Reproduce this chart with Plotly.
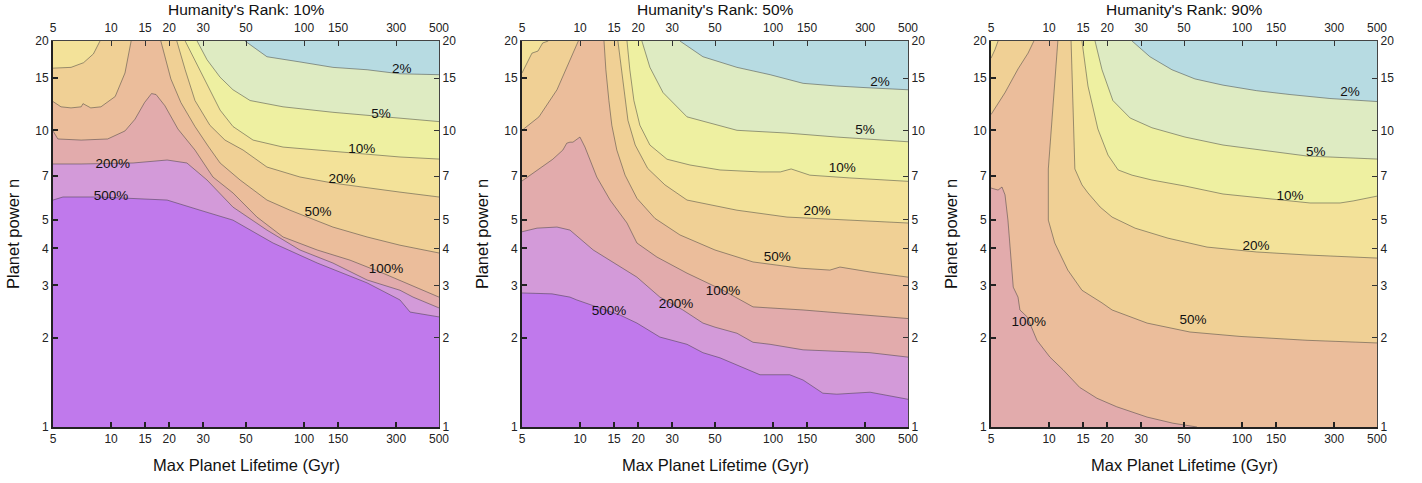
import math
import plotly.graph_objects as go

# ---------------- data ----------------
X_RANGE = (5, 500)
Y_RANGE = (1, 20)
X_TICKS = [5, 10, 15, 20, 30, 50, 100, 150, 300, 500]
Y_TICKS = [1, 2, 3, 4, 5, 7, 10, 15, 20]
LEVELS = ["2%", "5%", "10%", "20%", "50%", "100%", "200%", "500%"]
PANEL_TITLES = ["Humanity's Rank: 10%", "Humanity's Rank: 50%", "Humanity's Rank: 90%"]
X_TITLE = "Max Planet Lifetime (Gyr)"
Y_TITLE = "Planet power n"

# Panel 1 (rank 10%) contour lines
P1_L2_X = [49.4, 64.2, 95.2, 141, 212, 314, 500]
P1_L2_Y = [20, 17.7, 17.0, 16.3, 16.0, 15.5, 15.4]
P1_L5_X = [27.9, 31.4, 36.7, 42.8, 52.5, 77.8, 141, 256, 500]
P1_L5_Y = [20, 17.3, 15.1, 13.7, 12.6, 12.0, 11.5, 11.1, 10.7]
P1_L10_X = [24.2, 26.6, 31.4, 36.7, 42.8, 54.4, 77.8, 117, 173, 314, 500]
P1_L10_Y = [20, 17.7, 14.4, 11.7, 10.3, 9.27, 8.78, 8.58, 8.38, 8.13, 8.0]
P1_L20A_X = [5, 6.2, 7.2, 8.1, 8.76]
P1_L20A_Y = [16.2, 16.3, 16.9, 18.1, 20]
P1_L20B_X = [21.9, 24.2, 27.2, 32.5, 38.9, 48.3, 64.2, 95.2, 141, 212, 314, 500]
P1_L20B_Y = [20, 16.0, 12.6, 10.4, 9.27, 8.58, 7.52, 6.96, 6.64, 6.39, 6.19, 5.96]
P1_L50A_X = [5, 5.5, 6.2, 7.0, 7.15, 7.85, 8.86, 10.5, 11.8, 12.7]
P1_L50A_Y = [12.5, 12.0, 11.9, 12.0, 12.3, 11.9, 12.0, 13.0, 15.6, 20]
P1_L50B_X = [18.1, 19.0, 20.4, 23.0, 27.2, 31.8, 36.7, 46.6, 64.2, 84.5, 141, 212, 314, 500]
P1_L50B_Y = [20, 17.8, 14.9, 12.4, 10.3, 8.85, 7.76, 6.80, 5.82, 5.38, 4.72, 4.37, 4.10, 3.86]
P1_L100_X = [5, 5.3, 7.0, 9.6, 11.8, 13.3, 14.9, 16.2, 17.1, 19.0, 22.2, 27.2, 33.7, 42.8, 57.0, 77.8, 117, 173, 256, 354, 500]
P1_L100_Y = [9.95, 9.35, 9.27, 9.35, 9.95, 10.9, 12.4, 13.3, 13.2, 12.1, 10.1, 8.58, 6.96, 6.15, 5.10, 4.37, 3.95, 3.65, 3.30, 3.01, 2.74]
P1_L200_X = [5, 7.0, 13.0, 19.5, 24.7, 31.4, 42.8, 64.2, 95.2, 141, 212, 314, 367, 500]
P1_L200_Y = [7.70, 7.70, 7.76, 7.94, 7.76, 6.80, 5.51, 4.61, 3.95, 3.57, 3.13, 2.89, 2.74, 2.52]
P1_L500_X = [5, 5.63, 8.76, 19.5, 28.9, 42.8, 69.0, 117, 212, 314, 354, 433, 500]
P1_L500_Y = [5.82, 5.96, 5.96, 5.82, 5.38, 4.98, 4.17, 3.57, 3.06, 2.68, 2.44, 2.38, 2.35]
P1_LAB_T = ["2%", "5%", "10%", "20%", "50%", "100%", "200%", "500%"]
P1_LAB_X = [321, 250, 199, 157, 118, 266, 10.2, 9.99]
P1_LAB_Y = [16.0, 11.3, 8.58, 6.80, 5.26, 3.38, 7.64, 6.0]

# Panel 2 (rank 50%)
P2_L2_X = [32.9, 43.3, 65.0, 96.4, 143, 214, 318, 500]
P2_L2_Y = [20, 17.7, 16.3, 15.4, 14.4, 14.1, 13.9, 13.7]
P2_L5_X = [20.9, 23.0, 26.9, 35.8, 65.0, 118, 214, 500]
P2_L5_Y = [20, 16.3, 13.4, 11.1, 10.0, 9.79, 9.49, 9.15]
P2_L10_X = [17.5, 18.1, 19.0, 20.4, 23.0, 28.2, 37.1, 53.1, 85.5, 109, 124, 155, 250, 500]
P2_L10_Y = [20, 16.0, 12.6, 10.4, 8.92, 7.99, 7.64, 7.35, 7.24, 7.24, 7.41, 7.06, 6.91, 6.73]
P2_L20A_X = [5, 5.3, 5.63, 6.05, 6.4, 6.84]
P2_L20A_Y = [15.6, 16.9, 18.2, 18.5, 19.7, 20]
P2_L20B_X = [15.7, 16.7, 17.7, 19.3, 22.4, 27.5, 35.8, 65.0, 118, 250, 500]
P2_L20B_Y = [20, 14.4, 10.8, 8.92, 7.44, 6.55, 5.82, 5.38, 5.10, 4.98, 4.87]
P2_L50A_X = [5, 6.12, 7.59, 8.86, 9.79]
P2_L50A_Y = [10.0, 11.1, 13.7, 17.3, 20]
P2_L50B_X = [13.3, 13.6, 14.1, 14.6, 15.5, 17.1, 19.7, 24.4, 32.9, 50.0, 78.7, 138, 197, 222, 318, 500]
P2_L50B_Y = [20, 16.0, 12.6, 10.4, 8.58, 7.06, 5.90, 5.05, 4.44, 3.95, 3.60, 3.43, 3.38, 3.46, 3.33, 3.20]
P2_L100_X = [5, 5.98, 7.22, 8.14, 8.53, 8.86, 9.18, 9.98, 10.6, 12.2, 14.3, 17.5, 19.7, 25.0, 35.8, 55.0, 78.7, 143, 318, 500]
P2_L100_Y = [6.75, 7.35, 7.99, 8.58, 9.05, 9.12, 9.12, 9.49, 8.78, 6.96, 5.82, 4.87, 4.17, 3.74, 3.30, 2.89, 2.54, 2.48, 2.38, 2.32]
P2_L200_X = [5, 5.98, 7.59, 8.86, 11.7, 14.3, 19.7, 25.9, 34.1, 43.3, 50.0, 65.0, 78.7, 96.4, 143, 318, 500]
P2_L200_Y = [4.55, 4.68, 4.72, 4.61, 3.95, 3.65, 3.20, 2.74, 2.48, 2.24, 2.17, 2.07, 1.93, 1.90, 1.82, 1.78, 1.72]
P2_L500_X = [5, 7.15, 8.86, 9.62, 12.2, 16.2, 19.7, 25.9, 35.8, 43.3, 53.1, 73.3, 85.5, 122, 143, 181, 214, 318, 500]
P2_L500_Y = [2.83, 2.81, 2.74, 2.68, 2.54, 2.38, 2.24, 2.01, 1.90, 1.78, 1.71, 1.56, 1.50, 1.50, 1.44, 1.30, 1.29, 1.31, 1.24]
P2_LAB_T = ["2%", "5%", "10%", "20%", "50%", "100%", "200%", "500%"]
P2_LAB_X = [358, 299, 228, 169, 105, 55.0, 31.4, 14.1]
P2_LAB_Y = [14.5, 10.0, 7.41, 5.30, 3.71, 2.85, 2.58, 2.44]

# Panel 3 (rank 90%)
P3_L2_X = [26.9, 33.3, 43.3, 57.0, 79.6, 119, 177, 285, 500]
P3_L2_Y = [20, 17.7, 16.0, 14.9, 14.2, 13.6, 13.2, 12.8, 12.5]
P3_L5_X = [17.3, 18.8, 21.4, 26.3, 34.1, 50.6, 79.6, 145, 217, 500]
P3_L5_Y = [20, 16.0, 12.6, 11.0, 10.2, 9.49, 8.92, 8.45, 8.19, 8.0]
P3_L10_X = [14.8, 15.9, 17.9, 20.2, 22.8, 26.9, 34.1, 50.6, 79.6, 145, 225, 322, 376, 500]
P3_L10_Y = [20, 14.1, 10.1, 8.25, 7.35, 7.06, 6.80, 6.49, 6.10, 5.87, 5.69, 5.69, 5.78, 6.0]
P3_L20A_X = [5, 5.24, 5.44]
P3_L20A_Y = [17.5, 18.7, 20]
P3_L20B_X = [13.0, 13.3, 13.6, 14.8, 15.9, 18.4, 21.2, 27.9, 41.3, 65.8, 119, 217, 500]
P3_L20B_Y = [20, 12.6, 7.41, 6.55, 6.15, 5.51, 5.10, 4.68, 4.33, 4.04, 3.89, 3.80, 3.71]
P3_L50A_X = [5, 5.91, 6.90, 7.78, 8.34]
P3_L50A_Y = [11.3, 13.4, 16.1, 18.2, 20]
P3_L50B_X = [11.1, 10.5, 9.91, 9.91, 10.7, 12.5, 14.8, 18.8, 21.2, 32.2, 53.7, 97.5, 217, 500]
P3_L50B_Y = [20, 12.6, 7.41, 4.98, 4.17, 3.38, 2.89, 2.62, 2.48, 2.24, 2.09, 2.02, 1.96, 1.92]
P3_L100_X = [5, 5.44, 5.70, 5.91, 6.12, 6.52, 6.90, 7.06, 7.70, 8.65, 10.1, 11.8, 14.4, 17.7, 22.4, 32.2, 43.8, 58.4]
P3_L100_Y = [6.39, 6.29, 6.44, 6.06, 4.98, 2.96, 2.74, 2.48, 2.35, 1.96, 1.72, 1.56, 1.36, 1.25, 1.17, 1.08, 1.03, 1.0]
P3_LAB_T = ["2%", "5%", "10%", "20%", "50%", "100%"]
P3_LAB_X = [362, 241, 177, 118, 55.7, 7.85]
P3_LAB_Y = [13.4, 8.38, 6.0, 4.07, 2.28, 2.24]

# ---------------- styles ----------------
REGION_COLORS = ["#b7dbe2", "#deebc2", "#eef0a1", "#f3e299", "#f0d095",
                 "#ebbd9b", "#e2abac", "#d39ad9", "#c079ec"]
LINE_COLOR = "rgba(60,60,60,0.55)"
FONT = "Liberation Sans, Arial, sans-serif"

PANELS = [
    {"levels": {"2%": [(P1_L2_X, P1_L2_Y)], "5%": [(P1_L5_X, P1_L5_Y)],
                "10%": [(P1_L10_X, P1_L10_Y)],
                "20%": [(P1_L20A_X, P1_L20A_Y), (P1_L20B_X, P1_L20B_Y)],
                "50%": [(P1_L50A_X, P1_L50A_Y), (P1_L50B_X, P1_L50B_Y)],
                "100%": [(P1_L100_X, P1_L100_Y)], "200%": [(P1_L200_X, P1_L200_Y)],
                "500%": [(P1_L500_X, P1_L500_Y)]},
     "labels": (P1_LAB_T, P1_LAB_X, P1_LAB_Y)},
    {"levels": {"2%": [(P2_L2_X, P2_L2_Y)], "5%": [(P2_L5_X, P2_L5_Y)],
                "10%": [(P2_L10_X, P2_L10_Y)],
                "20%": [(P2_L20A_X, P2_L20A_Y), (P2_L20B_X, P2_L20B_Y)],
                "50%": [(P2_L50A_X, P2_L50A_Y), (P2_L50B_X, P2_L50B_Y)],
                "100%": [(P2_L100_X, P2_L100_Y)], "200%": [(P2_L200_X, P2_L200_Y)],
                "500%": [(P2_L500_X, P2_L500_Y)]},
     "labels": (P2_LAB_T, P2_LAB_X, P2_LAB_Y)},
    {"levels": {"2%": [(P3_L2_X, P3_L2_Y)], "5%": [(P3_L5_X, P3_L5_Y)],
                "10%": [(P3_L10_X, P3_L10_Y)],
                "20%": [(P3_L20A_X, P3_L20A_Y), (P3_L20B_X, P3_L20B_Y)],
                "50%": [(P3_L50A_X, P3_L50A_Y), (P3_L50B_X, P3_L50B_Y)],
                "100%": [(P3_L100_X, P3_L100_Y)]},
     "labels": (P3_LAB_T, P3_LAB_X, P3_LAB_Y)},
]

LX0, LX1 = math.log10(X_RANGE[0]), math.log10(X_RANGE[1])
LY0, LY1 = math.log10(Y_RANGE[0]), math.log10(Y_RANGE[1])
CORNERS = [(X_RANGE[0], Y_RANGE[1]), (X_RANGE[1], Y_RANGE[1]),
           (X_RANGE[1], Y_RANGE[0]), (X_RANGE[0], Y_RANGE[0])]


def perim(x, y):
    nx = (math.log10(x) - LX0) / (LX1 - LX0)
    ny = (math.log10(y) - LY0) / (LY1 - LY0)
    d = {"top": abs(1 - ny), "right": abs(1 - nx), "bottom": abs(ny), "left": abs(nx)}
    e = min(d, key=d.get)
    if e == "top":
        return nx
    if e == "right":
        return 1 + (1 - ny)
    if e == "bottom":
        return 2 + (1 - nx)
    return 3 + ny


def walk(p_from, p_to):
    s0 = perim(*p_from)
    s1 = perim(*p_to)
    if s1 <= s0:
        s1 += 4
    return [CORNERS[k % 4] for k in range(1, 9) if s0 < k < s1]


def polygon(pieces):
    xs, ys = [], []
    n = len(pieces)
    for i, (px, py) in enumerate(pieces):
        xs += list(px)
        ys += list(py)
        nxt = pieces[(i + 1) % n]
        for cx, cy in walk((px[-1], py[-1]), (nxt[0][0], nxt[1][0])):
            xs.append(cx)
            ys.append(cy)
    xs.append(xs[0])
    ys.append(ys[0])
    return xs, ys


W, H = 1422, 483
PLOT_PX = [(53, 439), (522, 908), (991, 1377)]
YTOP, YBOT = 41, 427

fig = go.Figure()
for i, panel in enumerate(PANELS):
    xa = "x" if i == 0 else f"x{i+1}"
    ya = "y" if i == 0 else f"y{i+1}"
    for li, lev in enumerate(LEVELS):
        if lev not in panel["levels"]:
            continue
        px, py = polygon(panel["levels"][lev])
        fig.add_trace(go.Scatter(x=px, y=py, mode="lines", fill="toself",
                                 fillcolor=REGION_COLORS[li + 1], line=dict(width=0),
                                 hoverinfo="skip", showlegend=False, xaxis=xa, yaxis=ya))
    for lev, pieces in panel["levels"].items():
        lx, ly = [], []
        for px, py in pieces:
            lx += list(px) + [None]
            ly += list(py) + [None]
        fig.add_trace(go.Scatter(x=lx, y=ly, mode="lines",
                                 line=dict(color=LINE_COLOR, width=0.9),
                                 hoverinfo="skip", showlegend=False, xaxis=xa, yaxis=ya))
    t, lxs, lys = panel["labels"]
    fig.add_trace(go.Scatter(x=lxs, y=lys, text=t, mode="text",
                             textfont=dict(family=FONT, size=13.5, color="#111"),
                             hoverinfo="skip", showlegend=False, xaxis=xa, yaxis=ya))
    # invisible helper so the mirrored top/right axes get drawn
    fig.add_trace(go.Scatter(x=list(X_RANGE), y=list(Y_RANGE), mode="markers",
                             marker=dict(opacity=0), hoverinfo="skip", showlegend=False,
                             xaxis=f"x{i+4}", yaxis=f"y{i+4}"))

base = dict(type="log", showgrid=False, zeroline=False, ticks="inside", ticklen=5,
            automargin=False, tickfont=dict(family=FONT, size=12, color="#222"))
main_style = dict(tickwidth=1.5, tickcolor="#222", showline=True, linecolor="#222", linewidth=1.8)
mirror_style = dict(tickwidth=1.3, tickcolor="#333", showline=True, linecolor="#444", linewidth=1.2)
ydom = [(H - YBOT) / H, (H - YTOP) / H]
layout = {}
for i in range(3):
    n = i + 1
    xk = "xaxis" if n == 1 else f"xaxis{n}"
    yk = "yaxis" if n == 1 else f"yaxis{n}"
    xa = "x" if n == 1 else f"x{n}"
    ya = "y" if n == 1 else f"y{n}"
    dom = [PLOT_PX[i][0] / W, PLOT_PX[i][1] / W]
    xcfg = dict(range=[LX0, LX1], tickvals=X_TICKS, ticktext=[str(v) for v in X_TICKS], **base)
    ycfg = dict(range=[LY0, LY1], tickvals=Y_TICKS, ticktext=[str(v) for v in Y_TICKS], **base)
    layout[xk] = dict(domain=dom, anchor=ya, **xcfg, **main_style)
    layout[yk] = dict(domain=ydom, anchor=xa, **ycfg, **main_style)
    layout[f"xaxis{n+3}"] = dict(overlaying=xa, side="top", anchor=ya, ticklabelstandoff=3,
                                 **xcfg, **mirror_style)
    layout[f"yaxis{n+3}"] = dict(overlaying=ya, side="right", anchor=xa, **ycfg, **mirror_style)

annotations = []
for i in range(3):
    cx = (PLOT_PX[i][0] + PLOT_PX[i][1]) / 2 / W
    annotations.append(dict(text=PANEL_TITLES[i], x=cx, y=(H - 10) / H, xref="paper", yref="paper",
                            showarrow=False, font=dict(family=FONT, size=15.5, color="#111"),
                            xanchor="center", yanchor="middle"))
    annotations.append(dict(text=X_TITLE, x=cx, y=(H - 465) / H, xref="paper", yref="paper",
                            showarrow=False, font=dict(family=FONT, size=16.5, color="#111"),
                            xanchor="center", yanchor="middle"))
    annotations.append(dict(text=Y_TITLE, x=(PLOT_PX[i][0] - 40) / W, y=(H - 234) / H,
                            xref="paper", yref="paper", textangle=-90,
                            showarrow=False, font=dict(family=FONT, size=16.5, color="#111"),
                            xanchor="center", yanchor="middle"))

fig.update_layout(width=W, height=H, margin=dict(l=0, r=0, t=0, b=0, pad=0, autoexpand=False),
                  paper_bgcolor="white", plot_bgcolor=REGION_COLORS[0],
                  showlegend=False, annotations=annotations, **layout)
fig.write_html("out.html")
